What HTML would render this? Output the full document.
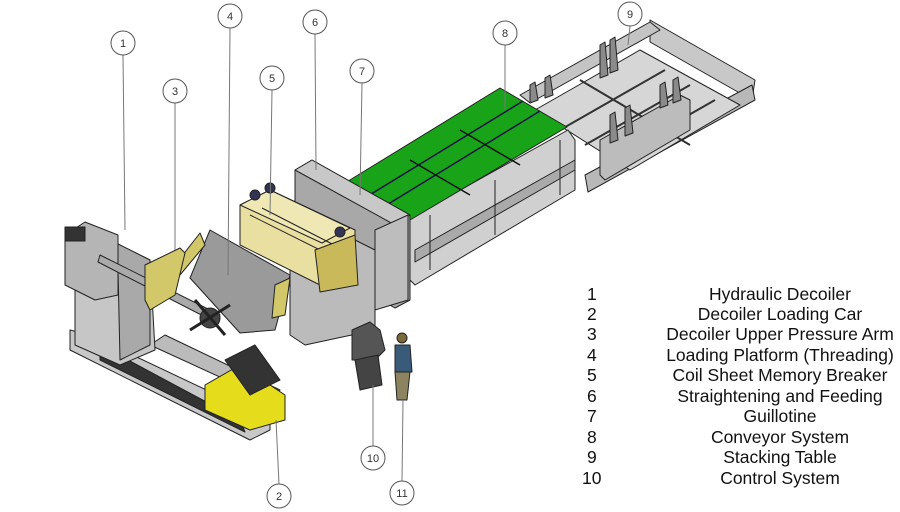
<!DOCTYPE html>
<html><head><style>
html,body{margin:0;padding:0;background:#fff;}
svg{display:block;}
text{font-family:"Liberation Sans",Arial,sans-serif;}
</style></head><body>
<svg width="900" height="512" viewBox="0 0 900 512" xmlns="http://www.w3.org/2000/svg">
<g stroke="#222" stroke-width="1" stroke-linejoin="round">
<!-- stacking table -->
<polygon points="650,20 755,80 752,100 650,42" fill="#c8c8c8"/>
<polygon points="585,175 752,85 755,100 588,192" fill="#b8b8b8"/>
<polygon points="520,95 650,22 660,30 530,103" fill="#c4c4c4"/>
<polygon points="535,110 640,50 740,105 630,170" fill="#d6d6d6"/>
<line x1="560" y1="130" x2="665" y2="70" stroke="#333" stroke-width="2"/>
<line x1="585" y1="145" x2="690" y2="85" stroke="#333" stroke-width="2"/>
<line x1="610" y1="160" x2="715" y2="100" stroke="#333" stroke-width="2"/>
<line x1="580" y1="80" x2="690" y2="145" stroke="#333" stroke-width="2"/>
<polygon points="600,140 680,95 690,100 690,130 605,180 600,175" fill="#bcbcbc"/>
<g fill="#8a8a8a">
<polygon points="600,45 605,42 608,75 600,78"/><polygon points="610,40 615,37 618,70 610,73"/>
<polygon points="530,85 535,82 538,100 530,103"/><polygon points="545,78 550,75 553,95 545,98"/>
<polygon points="610,115 615,112 618,140 610,143"/><polygon points="625,108 630,105 633,133 625,136"/>
<polygon points="660,85 665,82 668,105 660,108"/><polygon points="673,80 678,77 681,100 673,103"/>
</g>
<!-- conveyor frame -->
<polygon points="410,218 568,130 575,140 575,190 415,285 410,280" fill="#d0d0d0"/>
<polygon points="415,250 575,160 575,170 415,262" fill="#aaa"/>
<line x1="430" y1="270" x2="430" y2="215"/><line x1="495" y1="235" x2="495" y2="180"/><line x1="560" y1="195" x2="560" y2="140"/>
<!-- green conveyor -->
<polygon points="345,183 500,88 567,127 410,220" fill="#19a319"/>
<line x1="368" y1="196" x2="523" y2="101" stroke="#114" stroke-width="1.5"/>
<line x1="385" y1="206" x2="540" y2="111" stroke="#114" stroke-width="1.5"/>
<line x1="410" y1="160" x2="470" y2="195" stroke="#111" stroke-width="1.5"/>
<line x1="460" y1="130" x2="520" y2="165" stroke="#111" stroke-width="1.5"/>
<!-- guillotine -->
<polygon points="295,170 312,160 410,215 410,300 395,308 295,250" fill="#a8a8a8"/>
<polygon points="295,170 312,160 410,215 395,225" fill="#c8c8c8"/>
<polygon points="375,230 408,215 408,300 375,310" fill="#bdbdbd"/>
<!-- straightener base -->
<polygon points="290,260 345,235 375,250 375,330 305,345 290,335" fill="#bbb"/>
<!-- straightener yellow -->
<polygon points="240,205 270,190 355,230 355,285 330,290 240,245" fill="#e8dfa0"/>
<polygon points="240,205 270,190 350,228 322,243" fill="#efe7b4"/>
<line x1="250" y1="215" x2="330" y2="255"/><line x1="262" y1="208" x2="340" y2="248"/>
<polygon points="315,250 355,235 358,285 320,292" fill="#c9b95a"/>
<circle cx="255" cy="195" r="5" fill="#335"/><circle cx="270" cy="188" r="5" fill="#335"/>
<circle cx="340" cy="232" r="5" fill="#335"/>
<!-- coil plate -->
<polygon points="190,278 210,230 290,275 275,330 240,333" fill="#9a9a9a"/>
<polygon points="175,265 200,233 205,245 180,275" fill="#d2c86a"/>
<polygon points="275,285 290,278 285,315 272,318" fill="#d2c86a"/>
<!-- decoiler base rails -->
<polygon points="70,330 90,335 270,420 270,430 250,440 70,350" fill="#c8c8c8"/>
<polygon points="100,345 240,420 245,432 100,360" fill="#333"/>
<polygon points="150,345 165,335 280,390 270,400" fill="#bbb"/>
<!-- decoiler body -->
<polygon points="75,260 110,240 150,260 155,350 120,365 75,345" fill="#c6c6c6"/>
<polygon points="110,240 150,260 150,345 120,360 118,270" fill="#a9a9a9"/>
<polygon points="65,235 85,222 118,235 118,295 95,300 65,285" fill="#b5b5b5"/>
<rect x="65" y="227" width="20" height="14" fill="#333"/>
<!-- arbor -->
<polygon points="100,255 220,315 215,322 98,262" fill="#aaa"/>
<polygon points="145,265 180,248 185,253 175,295 150,310 145,300" fill="#d2c86a"/>
<circle cx="210" cy="318" r="10" fill="#444"/>
<line x1="195" y1="300" x2="225" y2="335" stroke-width="3"/><line x1="190" y1="330" x2="230" y2="305" stroke-width="3"/>
<!-- loading car -->
<polygon points="205,385 240,365 285,395 285,420 250,430 205,410" fill="#e5dd1c"/>
<polygon points="225,360 255,345 280,380 250,395" fill="#333"/>
<!-- control cabinet -->
<polygon points="352,330 370,322 380,330 385,350 375,360 352,360" fill="#555"/>
<polygon points="355,360 378,355 382,385 360,390" fill="#444"/>
<!-- person -->
<circle cx="402" cy="338" r="5" fill="#7a6a3a"/>
<polygon points="395,345 410,345 412,372 395,372" fill="#3a5a7a"/>
<polygon points="395,372 410,372 407,400 397,400" fill="#8c8460"/>
</g>
<!-- callout lines -->
<g stroke="#777" stroke-width="1">
<line x1="123" y1="55" x2="125" y2="230"/>
<line x1="175" y1="103" x2="175" y2="250"/>
<line x1="230" y1="28" x2="228" y2="275"/>
<line x1="272" y1="90" x2="270" y2="215"/>
<line x1="315" y1="34" x2="316" y2="170"/>
<line x1="362" y1="83" x2="360" y2="195"/>
<line x1="505" y1="45" x2="505" y2="110"/>
<line x1="630" y1="26" x2="628" y2="45"/>
<line x1="279" y1="484" x2="276" y2="420"/>
<line x1="373" y1="446" x2="373" y2="385"/>
<line x1="402" y1="481" x2="403" y2="400"/>
</g>
<g fill="#fff" stroke="#555" stroke-width="1">
<circle cx="123" cy="43" r="12"/><circle cx="175" cy="91" r="12"/><circle cx="230" cy="16" r="12"/>
<circle cx="272" cy="78" r="12"/><circle cx="315" cy="22" r="12"/><circle cx="362" cy="71" r="12"/>
<circle cx="505" cy="33" r="12"/><circle cx="630" cy="14" r="12"/><circle cx="279" cy="496" r="12"/>
<circle cx="373" cy="458" r="12"/><circle cx="402" cy="493" r="12"/>
</g>
<g font-size="11" fill="#333" text-anchor="middle">
<text x="123" y="47">1</text><text x="175" y="95">3</text><text x="230" y="20">4</text>
<text x="272" y="82">5</text><text x="315" y="26">6</text><text x="362" y="75">7</text>
<text x="505" y="37">8</text><text x="630" y="18">9</text><text x="279" y="500">2</text>
<text x="373" y="462">10</text><text x="402" y="497">11</text>
</g>
<g font-size="17.5" fill="#111">
<text x="587" y="300">1</text><text x="587" y="320">2</text><text x="587" y="340">3</text>
<text x="587" y="361">4</text><text x="587" y="381">5</text><text x="587" y="402">6</text>
<text x="587" y="422">7</text><text x="587" y="443">8</text><text x="587" y="463">9</text>
<text x="582" y="484">10</text>
</g>
<g font-size="17.5" fill="#111" text-anchor="middle">
<text x="780" y="300">Hydraulic Decoiler</text>
<text x="780" y="320">Decoiler Loading Car</text>
<text x="780" y="340">Decoiler Upper Pressure Arm</text>
<text x="780" y="361">Loading Platform (Threading)</text>
<text x="780" y="381">Coil Sheet Memory Breaker</text>
<text x="780" y="402">Straightening and Feeding</text>
<text x="780" y="422">Guillotine</text>
<text x="780" y="443">Conveyor System</text>
<text x="780" y="463">Stacking Table</text>
<text x="780" y="484">Control System</text>
</g>
</svg>
</body></html>
